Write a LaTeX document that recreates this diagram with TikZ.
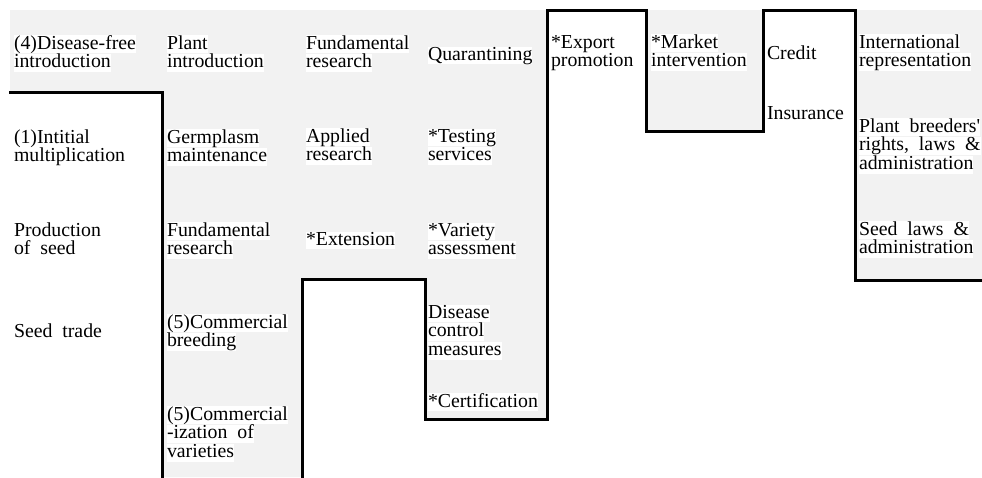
\documentclass[tikz,border=0pt]{standalone}
\usepackage{fontspec}
\setmainfont{Liberation Serif}
\definecolor{cellgrey}{HTML}{F2F2F2}
\newcommand\wbox[1]{{\setlength{\fboxsep}{0pt}\colorbox{white}{\strut #1}}}
\newcommand\tline[1]{\hbox{\wbox{#1}}}
\newcommand\cellt[1]{\vtop{#1}}
\begin{document}
\begin{tikzpicture}[x=1pt,y=-1pt,
  txt/.style={anchor=base west,inner sep=0pt,outer sep=0pt,
    font=\fontsize{19.8}{18.7}\selectfont\def\strut{\vrule width0pt height13.4pt depth4.2pt}},
  bound/.style={line width=3pt,line join=miter,line cap=rect}]
\useasboundingbox (0,0) rectangle (982,477);
\fill[white] (0,0) rectangle (982,477);
% grey regions
\fill[cellgrey] (10,10) -- (547,10) -- (547,419) -- (425,419) -- (425,279) -- (302,279) -- (302,477) -- (162,477) -- (162,92) -- (10,92) -- cycle;
\fill[cellgrey] (646,10) rectangle (763,131);
\fill[cellgrey] (855,10) rectangle (982,280);
% boundary coordinates
\coordinate (b1) at (10,92);
\coordinate (b2) at (162,92);
\coordinate (b3) at (162,477);
\coordinate (c1) at (302,477);
\coordinate (c2) at (302,279);
\coordinate (c3) at (425,279);
\coordinate (c4) at (425,419);
\coordinate (c5) at (547,419);
\coordinate (c6) at (547,10);
\coordinate (c7) at (646,10);
\coordinate (c8) at (646,131);
\coordinate (c9) at (763,131);
\coordinate (c10) at (763,10);
\coordinate (c11) at (855,10);
\coordinate (c12) at (855,280);
\coordinate (c13) at (982,280);
\draw[bound] (b1) -- (b2) -- (b3);
\draw[bound] (c1) -- (c2) -- (c3) -- (c4) -- (c5) -- (c6) -- (c7) -- (c8) -- (c9) -- (c10) -- (c11) -- (c12) -- (c13);
% column 1
\node[txt] (a1) at (14,49) {\cellt{\tline{(4)Disease-free}\tline{introduction}}};
\node[txt] (a2) at (14,143) {\cellt{\tline{(1)Intitial}\tline{multiplication}}};
\node[txt] (a3) at (14,236) {\cellt{\tline{Production}\tline{of\ \ seed}}};
\node[txt] (a4) at (14,337) {\cellt{\tline{Seed\ \ trade}}};
% column 2
\node[txt] (p1) at (167,49) {\cellt{\tline{Plant}\tline{introduction}}};
\node[txt] (p2) at (167,143) {\cellt{\tline{Germplasm}\tline{maintenance}}};
\node[txt] (p3) at (167,236) {\cellt{\tline{Fundamental}\tline{research}}};
\node[txt] (p4) at (167,328) {\cellt{\tline{(5)Commercial}\tline{breeding}}};
\node[txt] (p5) at (167,420) {\cellt{\tline{(5)Commercial}\tline{-ization\ \ of}\tline{varieties}}};
% column 3
\node[txt] (r1) at (306,49) {\cellt{\tline{Fundamental}\tline{research}}};
\node[txt] (r2) at (306,142) {\cellt{\tline{Applied}\tline{research}}};
\node[txt] (r3) at (306,245) {\cellt{\tline{*Extension}}};
% column 4
\node[txt] (q1) at (428,60) {\cellt{\tline{Quarantining}}};
\node[txt] (q2) at (428,142) {\cellt{\tline{*Testing}\tline{services}}};
\node[txt] (q3) at (428,236) {\cellt{\tline{*Variety}\tline{assessment}}};
\node[txt] (q4) at (428,318) {\cellt{\tline{Disease}\tline{control}\tline{measures}}};
\node[txt] (q5) at (428,407) {\cellt{\tline{*Certification}}};
% column 5-7
\node[txt] (e1) at (551,48) {\cellt{\tline{*Export}\tline{promotion}}};
\node[txt] (m1) at (651,48) {\cellt{\tline{*Market}\tline{intervention}}};
\node[txt] (k1) at (767,59) {\cellt{\tline{Credit}}};
\node[txt] (k2) at (767,119) {\cellt{\tline{Insurance}}};
% column 8
\node[txt] (g1) at (859,48) {\cellt{\tline{International}\tline{representation}}};
\node[txt] (g2) at (859,132) {\cellt{\tline{Plant\ \ breeders\textquotesingle}\tline{rights,\ \ laws\ \ \&}\tline{administration}}};
\node[txt] (g3) at (859,235) {\cellt{\tline{Seed\ \ laws\ \ \&}\tline{administration}}};
\end{tikzpicture}
\end{document}
